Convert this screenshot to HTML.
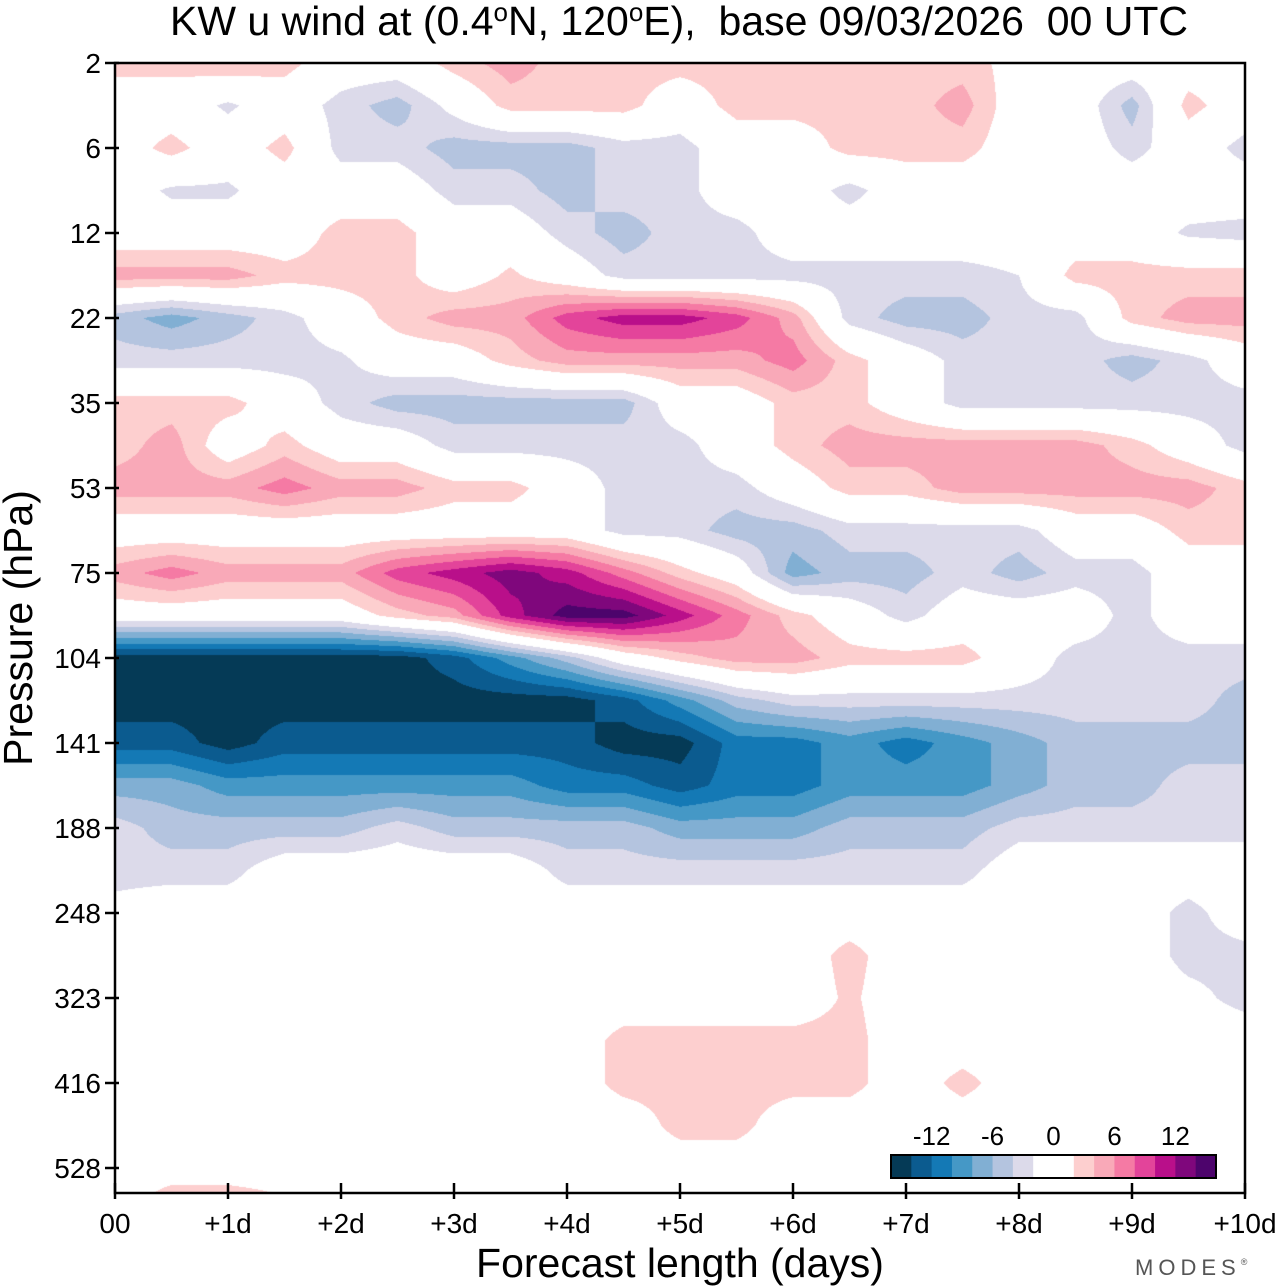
<!DOCTYPE html>
<html><head><meta charset="utf-8">
<style>
html,body{margin:0;padding:0;background:#fff;}
body{width:1280px;height:1286px;position:relative;overflow:hidden;font-family:"Liberation Sans",sans-serif;}
#chart{position:absolute;left:0;top:0;}
</style></head>
<body>
<svg id="chart" width="1280" height="1286" xmlns="http://www.w3.org/2000/svg">
  <text x="679" y="35" font-size="41" text-anchor="middle" font-family="Liberation Sans, sans-serif">KW u wind at (0.4<tspan dy="-14" font-size="26">o</tspan><tspan dy="14">N, 120</tspan><tspan dy="-14" font-size="26">o</tspan><tspan dy="14">E),&#160; base 09/03/2026&#160; 00 UTC</tspan></text>
  <foreignObject x="115" y="63" width="1130" height="1130">
    <canvas xmlns="http://www.w3.org/1999/xhtml" id="cv" width="1130" height="1130" style="display:block"></canvas>
  </foreignObject>
  <g id="axes"></g>
  <text transform="translate(32,628) rotate(-90)" font-size="41" text-anchor="middle">Pressure (hPa)</text>
  <text x="680" y="1277" font-size="41" text-anchor="middle">Forecast length (days)</text>
  <text x="1135" y="1275" font-size="22" letter-spacing="5" fill="#555">MODES<tspan font-size="9" dy="-10">®</tspan></text>
  <g id="legend"></g>
</svg>
<script>
const levels = ["2","6","12","22","35","53","75","104","141","188","248","323","416","528"];
const days = ["00","+1d","+2d","+3d","+4d","+5d","+6d","+7d","+8d","+9d","+10d"];
const legendLabels = ["-12","-6","0","6","12"];
const legendValues = [-12,-6,0,6,12];
const bounds = [-16,-14,-12,-10,-8,-6,-4,-2,2,4,6,8,10,12,14,16];
const colors = ["#053a56","#0b5b8f","#1479b5","#4598c6","#81afd3","#b4c4df","#dcdaea","#ffffff","#fdcfcf","#f9a9b8","#f57aa4","#e3449a","#b90f8a","#7f077c","#4d046c"];
// field: rows = half model-level steps (level index 0..13.5), cols = forecast time every 0.5 day
const r0=[3,3,4,3,0,0,3,5,3,3,3,3,3,3,3,3,1,0,0,0,0];
const r1=[0,0,-2.5,0,-3,-5,-1,3,3,3,0,3,3,3,3,5,0,0,-5,3,0];
const r2=[0,3,0,3,-3,-3,-5,-5,-5,-3,-3,0,0,3,3,3,0,0,-3,0,-3];
const r3=[0,-2.5,-2.5,0,0,0,-3,-3,-5,-3,-3,0,0,-3,0,0,0,0,0,0,0];
const r4=[0,0,0,0,3,3,0,0,-3,-5,-3,-3,0,0,0,0,0,0,0,-2.5,-3];
const r5=[5,5,5,3,3,3,0,2.5,0,-3,-3,-3,-3,-3,-3,-3,-2,3,3,3,3];
const r6=[-5,-7,-5,-3,0,3,5,5,9,11,11,9,5,-3,-5,-5,-3,-3,3,5,5];
const r7=[-3,-3,-3,-3,-2.5,0,0,3,5,5,5,5,7,3,0,-3,-3,-3,-5,-3,0];
const r8=[3,3,3,0,-3,-5,-5,-5,-5,-5,0,0,3,3,0,-3,-3,-3,-3,-3,-3];
const r9=[3,5,0,3,0,0,-3,-3,-3,-3,-3,0,3,5,5,5,5,5,3,0,-3];
const r10=[5,5,5,7,5,5,3,3,0,-3,-3,-3,0,3,3,5,5,5,5,5,3];
const r11=[0,0,0,0,0,0,0,0,0,-3,-3,-5,-5,-3,-3,-3,-3,0,0,3,3];
const r12=[5,7,5,5,5,9,11,13,11,7,3,0,-7,-5,-5,-3,-5,-3,-3,0,0];
const r13=[0,0,0,0,0,3,5,11,15,15,11,7,3,0,-3,0,0,0,-3,0,0];
const r14=[-15,-15,-15,-15,-15,-15,-13,-9,-5,0,3,5,5,3,3,3,0,-3,-3,-3,-3];
const r15=[-15,-15,-15,-15,-15,-15,-15,-15,-15,-13,-9,-5,-3,-3,-3,-3,-3,-3,-3,-3,-5];
const r16=[-13,-13,-15,-13,-13,-13,-13,-13,-13,-15,-15,-11,-11,-9,-11,-9,-7,-5,-5,-5,-5];
const r17=[-7,-7,-9,-9,-9,-9,-9,-9,-11,-11,-13,-11,-11,-9,-9,-9,-7,-5,-5,-3,-3];
const r18=[-3,-5,-5,-5,-5,-3,-5,-5,-5,-5,-7,-7,-7,-5,-5,-5,-3,-3,-3,-3,-3];
const r19=[-3,-3,-3,0,0,0,0,0,-3,-3,-3,-3,-3,-3,-3,-3,0,0,0,0,0];
const r20=[-1,0,0,0,0,0,0,0,0,0,0,0,0,0,0,0,0,0,0,-3,0];
const r21=[0,0,0,0,0,0,0,0,0,0,0,0,0,3,0,0,0,0,0,-3,-3];
const r22=[0,0,0,0,0,0,0,0,0,0,0,0,0,2.5,0,0,0,0,0,-1,-3];
const r23=[0,0,0,0,0,0,0,0,0,3,3,3,3,3,0,0,0,0,0,0,0];
const r24=[0,0,0,0,0,0,0,0,0,3,3,3,3,3,0,3,0,0,0,0,0];
const r25=[0,0,0,0,0,0,0,0,0,0,3,3,0,0,0,0,0,0,0,0,0];
const r26=[0,0,0,0,0,0,0,0,0,0,0,0,0,0,0,0,0,0,0,0,0];
const r27=[0,5,5,3,0,0,0,0,0,0,0,0,0,0,0,0,0,0,0,0,0];
const field=[r0,r1,r2,r3,r4,r5,r6,r7,r8,r9,r10,r11,r12,r13,r14,r15,r16,r17,r18,r19,r20,r21,r22,r23,r24,r25,r26,r27];

const X0=115,X1=1245,Y0=63,Y1=1193;
const xScale=d=>X0+(X1-X0)*d/10;
const yScale=li=>Y0+85*li;
const NS="http://www.w3.org/2000/svg";
function hex(c){return [parseInt(c.slice(1,3),16),parseInt(c.slice(3,5),16),parseInt(c.slice(5,7),16)];}
const rgb=colors.map(hex);
const cv=document.getElementById('cv');const ctx=cv.getContext('2d');
const W=cv.width,H=cv.height;const img=ctx.createImageData(W,H);
const nc=field[0].length,nr=field.length;
for(let py=0;py<H;py++){
  const li=(py+0.5)/85; const fr=li*2; let r=Math.floor(fr); if(r>nr-2)r=nr-2; const ty=fr-r;
  for(let px=0;px<W;px++){
    const d=(px+0.5)/(X1-X0)*10; const fc=d*2; let c=Math.floor(fc); if(c>nc-2)c=nc-2; const tx=fc-c;
    const v=(field[r][c]*(1-tx)+field[r][c+1]*tx)*(1-ty)+(field[r+1][c]*(1-tx)+field[r+1][c+1]*tx)*ty;
    let k=colors.length-1; for(let i=0;i<colors.length;i++){if(v<bounds[i+1]){k=i;break;}}
    const col=rgb[k]; const o=(py*W+px)*4;
    img.data[o]=col[0];img.data[o+1]=col[1];img.data[o+2]=col[2];img.data[o+3]=255;
  }
}
ctx.putImageData(img,0,0);
const ax=document.getElementById('axes');
function mk(tag,attrs,parent){const e=document.createElementNS(NS,tag);for(const k in attrs)e.setAttribute(k,attrs[k]);parent.appendChild(e);return e;}
const frame=mk('rect',{x:X0,y:Y0,width:X1-X0,height:Y1-Y0,fill:'none',stroke:'#000','stroke-width':2.5},ax);


levels.forEach((lab,i)=>{
  const y=yScale(i);
  const t=mk('line',{x1:X0-10,x2:X0+4,y1:y,y2:y,stroke:'#000','stroke-width':2.5},ax);
  
  
  const tx=mk('text',{x:X0-14,y:y+10,'font-size':28,'text-anchor':'end'},ax);tx.textContent=lab;
  
  
});
days.forEach((lab,i)=>{
  const x=xScale(i);
  const t=mk('line',{x1:x,x2:x,y1:Y1-10,y2:Y1+6,stroke:'#000','stroke-width':2.5},ax);
  
  
  const tx=mk('text',{x:x,y:Y1+40,'font-size':28,'text-anchor':'middle'},ax);tx.textContent=lab;
  
  
});
const lg=document.getElementById('legend');
const LX=891,LW=325,LY=1155,LH=23,unit=LW/32;
for(let i=0;i<colors.length;i++){
  const x=LX+(bounds[i]+16)*unit,w=(bounds[i+1]-bounds[i])*unit;
  const r=mk('rect',{x:x,y:LY,width:w+0.5,height:LH,fill:colors[i]},lg);
  
  
}
const lb=mk('rect',{x:LX,y:LY,width:LW,height:LH,fill:'none',stroke:'#000','stroke-width':2},lg);


legendLabels.forEach((lab,i)=>{
  const x=LX+(legendValues[i]+16)*unit;
  const t=mk('text',{x:x,y:LY-10,'font-size':26,'text-anchor':'middle'},lg);t.textContent=lab;
  
  
});
</script>
</body></html>
